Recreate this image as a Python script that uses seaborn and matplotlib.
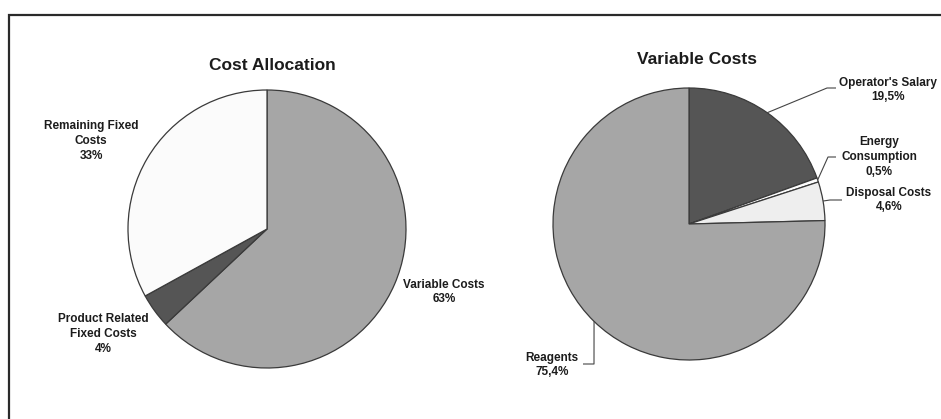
import numpy as np
import matplotlib
matplotlib.use("Agg")
import matplotlib.pyplot as plt
from matplotlib.patches import Rectangle
import seaborn as sns

# --- data -------------------------------------------------------------
alloc_labels = ["Variable Costs", "Product Related\nFixed Costs", "Remaining Fixed\nCosts"]
alloc_values = [63, 4, 33]

var_labels = ["Operator's Salary", "Energy\nConsumption", "Disposal Costs", "Reagents"]
var_values = [19.5, 0.5, 4.6, 75.4]

# --- styling ----------------------------------------------------------
sns.set_theme(style="white")
plt.rcParams["font.family"] = ["Liberation Sans", "DejaVu Sans"]

alloc_colors = ["#a6a6a6", "#555555", "#fbfbfb"]
var_colors = ["#555555", "#fdfdfd", "#eeeeee", "#a6a6a6"]
edge = "#3a3a3a"
txt = "#1c1c1c"

W, H = 941, 419
fig = plt.figure(figsize=(W / 100, H / 100), dpi=100)
ax = fig.add_axes([0, 0, 1, 1])


def Y(y):
    # pixel row (top-down) to axis y
    return H - y


def pie(values, colors, cx, cy, r):
    wedges, _ = ax.pie(values, colors=colors, center=(cx, Y(cy)), radius=r,
                       startangle=90, counterclock=False,
                       wedgeprops=dict(edgecolor=edge, linewidth=0.9))
    return wedges


def anchor(w):
    a = np.deg2rad((w.theta1 + w.theta2) / 2)
    return w.center[0] + w.r * np.cos(a), w.center[1] + w.r * np.sin(a)


def fmt(v):
    return f"{v:.1f}".replace(".", ",") + "%"


lab_kw = dict(fontsize=8.5, fontweight="bold", color=txt, ha="center",
              va="center", linespacing=1.3)

# --- left pie: cost allocation ---------------------------------------
pie(alloc_values, alloc_colors, 267, 229, 139)
ax.text(272, Y(66), "Cost Allocation", fontsize=12.5, fontweight="bold",
        color=txt, ha="center", va="center")
alloc_pos = [(444, 292), (103, 334), (91, 141)]
for lab, v, (x, y) in zip(alloc_labels, alloc_values, alloc_pos):
    ax.text(x, Y(y), f"{lab}\n{v}%", **lab_kw)

# --- right pie: variable costs ---------------------------------------
wedges = pie(var_values, var_colors, 689, 224, 136)
ax.text(697, Y(60), "Variable Costs", fontsize=12.5, fontweight="bold",
        color=txt, ha="center", va="center")

# text centre, then elbow and end of the leader line
var_pos = [(888, 90), (879, 157), (889, 200), (552, 365)]
leader = [[(827, 88), (836, 88)],
          [(828, 157), (836, 157)],
          [(830, 200), (842, 200)],
          [(594, 364), (583, 364)]]
for w, lab, v, (x, y), pts in zip(wedges, var_labels, var_values, var_pos, leader):
    ax.text(x, Y(y), f"{lab}\n{fmt(v)}", **lab_kw)
    ax0, ay0 = anchor(w)
    xs = [ax0] + [p[0] for p in pts]
    ys = [ay0] + [Y(p[1]) for p in pts]
    ax.plot(xs, ys, color="#444444", lw=0.8, solid_capstyle="butt")

# outer frame
ax.add_patch(Rectangle((9, Y(460)), 960, 445, fill=False, edgecolor="#2a2a2a",
                       linewidth=1.6, clip_on=False))

ax.set_xlim(0, W)
ax.set_ylim(0, H)
ax.set_aspect("equal")
ax.axis("off")

fig.savefig("out.png", dpi=100, facecolor="white")
